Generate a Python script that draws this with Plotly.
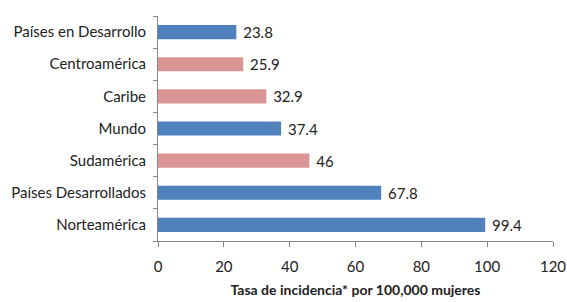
import plotly.graph_objects as go

categories = ["Norteamérica", "Países Desarrollados", "Sudamérica", "Mundo",
              "Caribe", "Centroamérica", "Países en Desarrollo"]
values = [99.4, 67.8, 46, 37.4, 32.9, 25.9, 23.8]
labels = ["99.4", "67.8", "46", "37.4", "32.9", "25.9", "23.8"]
groups = ["blue", "blue", "pink", "blue", "pink", "pink", "blue"]
color_map = {"blue": "#4F81BD", "pink": "#D99694"}
x_ticks = [0, 20, 40, 60, 80, 100, 120]

fig = go.Figure(go.Bar(
    x=values, y=categories, orientation="h",
    marker=dict(color=[color_map[g] for g in groups], line=dict(width=0)),
    width=0.44,
    text=[" " + t for t in labels], textposition="outside", cliponaxis=False,
    constraintext="none",
    textfont=dict(family="Lato", size=15, color="#222222"),
))

fig.update_layout(
    width=567, height=302,
    margin=dict(l=158, r=14, t=16, b=61, autoexpand=False),
    paper_bgcolor="white", plot_bgcolor="white",
    font=dict(family="Lato", size=15, color="#222222"),
    showlegend=False,
    xaxis=dict(
        range=[0, 120], tickvals=x_ticks, ticktext=[str(v) for v in x_ticks],
        showgrid=False, zeroline=False, automargin=False,
        showline=True, linecolor="#868686", linewidth=1,
        ticks="outside", ticklen=5, tickcolor="#868686",
        ticklabelstandoff=7,
        tickfont=dict(family="Lato", size=15),
        title=dict(text="<b>Tasa de incidencia* por 100,000 mujeres</b>",
                   font=dict(family="Lato", size=14), standoff=11),
    ),
    yaxis=dict(
        categoryorder="array", categoryarray=categories,
        showgrid=False, zeroline=False, automargin=False,
        showline=True, linecolor="#868686", linewidth=1,
        ticks="outside", ticklen=4, tickcolor="#868686", tickson="boundaries",
        ticklabelstandoff=8,
        tickfont=dict(family="Lato", size=15),
    ),
)

fig.write_html("out.html",
               config={"displayModeBar": False},
               post_script="document.body.style.margin='0';document.body.style.overflow='hidden';")
